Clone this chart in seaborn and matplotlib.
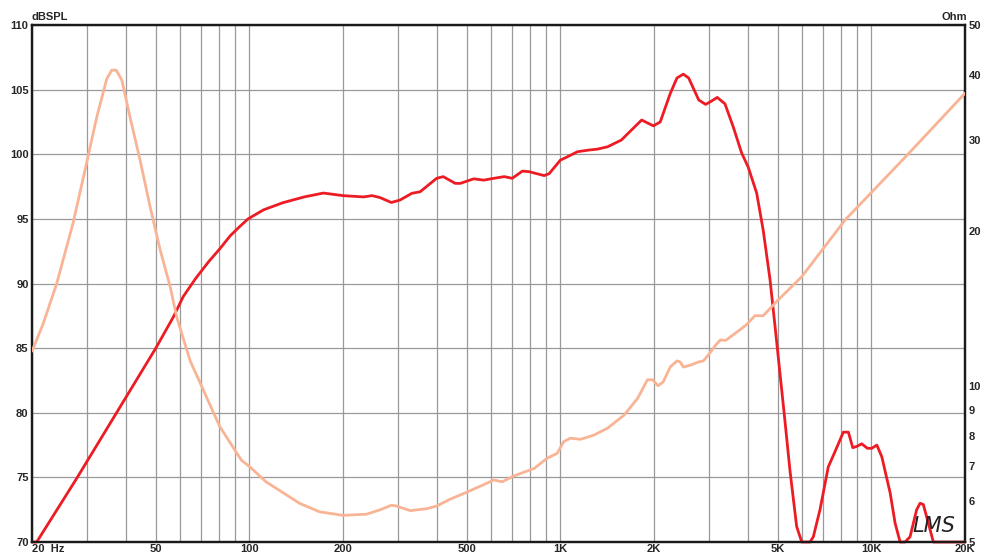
import matplotlib
matplotlib.use("Agg")
import pandas as pd
import matplotlib.pyplot as plt
import seaborn as sns

# SPL response (Hz, dB)
spl_freq = [20, 20.7, 27.8, 50, 56.9, 61.3, 67.2, 74, 80.4, 86.8, 93, 99, 111, 128, 150, 173,
            200, 233, 248, 263, 286, 305, 333, 354, 400, 420, 459, 477, 526, 567, 611, 660, 700,
            755, 794, 887, 920, 1000, 1052, 1135, 1238, 1317, 1418, 1570, 1713, 1825, 1990, 2094,
            2255, 2370, 2484, 2585, 2785, 2930, 3040, 3194, 3382, 3598, 3826, 4018, 4276, 4490,
            4721, 4899, 5084, 5276, 5474, 5750, 5970, 6346, 6505, 6834, 7265, 7640, 8124, 8434,
            8710, 8975, 9312, 9706, 10030, 10410, 10800, 11490, 11920, 12370, 12830, 13310,
            13980, 14340, 14690, 15250, 15820, 20000]
spl_db = [70.0, 70.0, 74.9, 85.0, 87.4, 89.0, 90.4, 91.7, 92.7, 93.7, 94.4, 95.0, 95.7, 96.25,
          96.7, 97.0, 96.8, 96.7, 96.8, 96.65, 96.27, 96.46, 96.98, 97.1, 98.14, 98.27, 97.75,
          97.75, 98.1, 98.0, 98.14, 98.27, 98.14, 98.7, 98.65, 98.35, 98.5, 99.55, 99.8, 100.2,
          100.33, 100.4, 100.58, 101.1, 102.0, 102.65, 102.2, 102.5, 104.7, 105.9, 106.2, 105.9,
          104.2, 103.86, 104.07, 104.4, 103.9, 102.1, 100.1, 99.0, 97.0, 94.1, 90.3, 86.7, 83.0,
          79.3, 75.5, 71.2, 70.0, 70.0, 70.4, 72.5, 75.8, 77.0, 78.5, 78.5, 77.3, 77.4, 77.6,
          77.25, 77.25, 77.5, 76.6, 73.8, 71.45, 70.0, 70.0, 70.4, 72.5, 73.0, 72.9, 71.45,
          70.0, 70.0]

# impedance (Hz, Ohm)
imp_freq = [20, 21.7, 24.0, 27.1, 29.6, 32.3, 34.8, 36.1, 37.3, 38.9, 41.3, 44.5, 47.9, 51.6,
            55.6, 58.4, 64.5, 71.1, 80.3, 94.2, 100, 113, 145, 168, 200, 238, 263, 286, 297, 329,
            372, 400, 442, 490, 565, 610, 650, 708, 824, 906, 976, 1025, 1077, 1161, 1281, 1417,
            1603, 1771, 1905, 1980, 2060, 2140, 2255, 2370, 2428, 2484, 2628, 2780, 2880, 2990,
            3150, 3270, 3400, 3670, 3960, 4220, 4490, 4960, 5970, 8240, 13020, 20000]
imp_ohm = [11.7, 13.2, 15.8, 20.7, 26.2, 33.2, 39.4, 40.9, 40.9, 39.1, 33.2, 27.4, 22.3, 18.4,
           15.6, 13.6, 11.2, 9.84, 8.36, 7.2, 7.0, 6.54, 5.94, 5.72, 5.63, 5.66, 5.77, 5.89, 5.87,
           5.75, 5.8, 5.87, 6.05, 6.21, 6.45, 6.59, 6.54, 6.71, 6.94, 7.26, 7.42, 7.82, 7.94, 7.9,
           8.05, 8.3, 8.8, 9.48, 10.3, 10.3, 10.03, 10.2, 10.9, 11.2, 11.15, 10.9, 11.0, 11.15,
           11.2, 11.5, 12.0, 12.3, 12.27, 12.7, 13.15, 13.7, 13.7, 14.6, 16.3, 21.0, 28.0, 36.9]

x_ticks = [20, 50, 100, 200, 500, 1000, 2000, 5000, 10000, 20000]
x_labels = ["20  Hz", "50", "100", "200", "500", "1K", "2K", "5K", "10K", "20K"]
x_grid = [m * d for d in (10, 100, 1000) for m in range(3, 10)] + [100, 1000, 10000]
db_ticks = [70, 75, 80, 85, 90, 95, 100, 105, 110]
ohm_ticks = [5, 6, 7, 8, 9, 10, 20, 30, 40, 50]

spl = pd.DataFrame({"freq": spl_freq, "db": spl_db})
imp = pd.DataFrame({"freq": imp_freq, "ohm": imp_ohm})

sns.set_style("white")
plt.rcParams['font.family'] = ['Liberation Sans', 'DejaVu Sans']

fig = plt.figure(figsize=(9.92, 5.55), dpi=100)
ax = fig.add_axes([0.0323, 0.0234, 0.9405, 0.9315])
ax.set_xscale('log')
ax.set_xlim(20, 20000)
ax.set_ylim(70, 110)

ax.set_xticks(x_ticks)
ax.set_xticklabels(x_labels)
ax.set_xticks(x_grid, minor=True)
ax.xaxis.set_minor_formatter(plt.NullFormatter())
ax.set_yticks(db_ticks)
ax.set_yticklabels([str(t) for t in db_ticks])
ax.grid(True, which='both', axis='both', color='#999999', lw=0.9)
ax.set_axisbelow(True)
ax.tick_params(axis='both', which='both', length=0, labelsize=8, pad=2.5)
ax.tick_params(axis='x', pad=1.5)
for lbl in ax.get_xticklabels() + ax.get_yticklabels():
    lbl.set_fontweight('bold')
ax.get_xticklabels()[0].set_horizontalalignment('left')

sns.lineplot(data=spl, x="freq", y="db", color="#ed1c24", lw=2.0, sort=False,
             estimator=None, ax=ax, zorder=5, clip_on=False)
ax.set_xlabel("")
ax.set_ylabel("")

ax2 = ax.twinx()
ax2.set_yscale('log')
ax2.set_ylim(5, 50)
ax2.set_yticks(ohm_ticks)
ax2.set_yticklabels([str(t) for t in ohm_ticks])
ax2.yaxis.set_minor_locator(plt.NullLocator())
ax2.tick_params(axis='y', length=0, labelsize=8, pad=2.5)
for lbl in ax2.get_yticklabels():
    lbl.set_fontweight('bold')
sns.lineplot(data=imp, x="freq", y="ohm", color="#f9b496", lw=2.0, sort=False,
             estimator=None, ax=ax2, zorder=4)
ax2.set_xlim(20, 20000)
ax2.set_ylabel("")
ax2.set_xlabel("")

for a in (ax, ax2):
    for s in a.spines.values():
        s.set_color('#1a1a1a')
        s.set_linewidth(1.6)

fig.text(32 / 992, 1 - 20 / 555, "dBSPL", fontsize=8, fontweight='bold', ha='left', va='baseline')
fig.text(967 / 992, 1 - 20 / 555, "Ohm", fontsize=8, fontweight='bold', ha='right', va='baseline')
fig.text(912 / 992, 1 - 532 / 555, "LMS", fontsize=15, fontstyle='italic', fontweight='light',
         family=['DejaVu Sans'], ha='left', va='baseline', color='#222222')

fig.savefig("out.png", dpi=100)
